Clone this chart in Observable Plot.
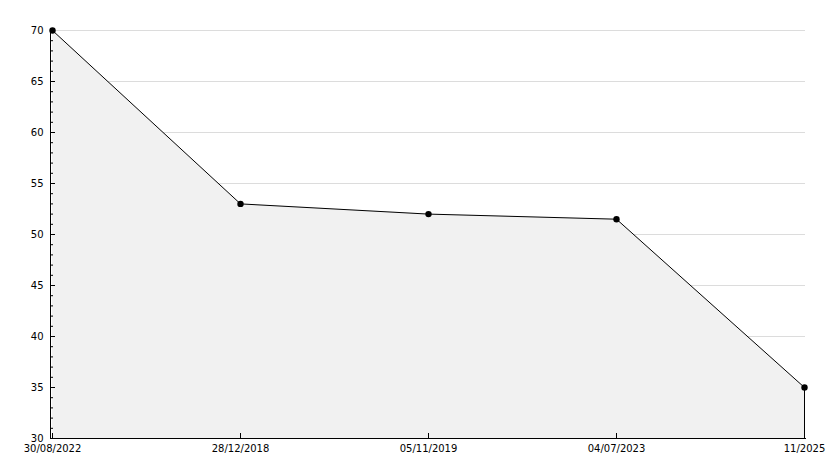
<!DOCTYPE html>
<html>
<head>
<meta charset="utf-8">
<script src="https://cdn.jsdelivr.net/npm/d3@7"></script>
<script src="https://cdn.jsdelivr.net/npm/@observablehq/plot@0.6"></script>
<style>
  html, body { margin: 0; padding: 0; background: #fff; }
  #chart svg { display: block; }
</style>
</head>
<body>
<div id="chart"></div>
<script>
const dates = ["30/08/2022", "28/12/2018", "05/11/2019", "04/07/2023", "11/2025"];
const values = [70, 53, 52, 51.5, 35];
const yTicks = [30, 35, 40, 45, 50, 55, 60, 65, 70];
const yMinorTicks = d3.range(30, 71, 1);

const data = dates.map((d, i) => ({date: d, value: values[i]}));

const chart = Plot.plot({
  width: 834,
  height: 468,
  marginLeft: 50,
  marginRight: 29,
  marginTop: 30,
  marginBottom: 30,
  style: {fontFamily: "DejaVu Sans", fontSize: "10px", color: "#000", background: "#fff"},
  x: {type: "point", domain: dates, padding: 0, label: null},
  y: {domain: [30, 70], label: null},
  marks: [
    Plot.gridY(yTicks, {stroke: "#dcdcdc", strokeOpacity: 1}),
    Plot.areaY(data, {x: "date", y: "value", y1: 30, fill: "#f1f1f1"}),
    Plot.line(data, {x: "date", y: "value", stroke: "#000", strokeWidth: 1}),
    Plot.ruleX([dates[dates.length - 1]], {y1: 30, y2: values[values.length - 1], stroke: "#000"}),
    Plot.frame({anchor: "left", stroke: "#000"}),
    Plot.frame({anchor: "bottom", stroke: "#000"}),
    Plot.axisY(yMinorTicks, {tickSize: -3, tickFormat: null, text: null, label: null}),
    Plot.axisY(yTicks, {tickSize: -5, tickPadding: 12, label: null, fill: "#000"}),
    Plot.axisX({tickSize: -5, tickPadding: 11, label: null, fill: "#000"}),
    Plot.dot(data, {x: "date", y: "value", symbol: "circle", r: 3.2, fill: "#000"})
  ]
});
document.getElementById("chart").appendChild(chart);
</script>
</body>
</html>
